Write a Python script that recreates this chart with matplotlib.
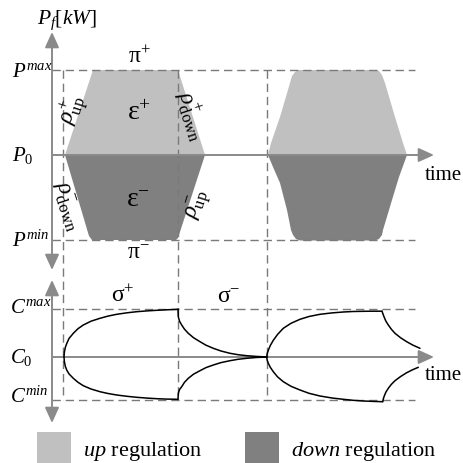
import matplotlib
matplotlib.use("Agg")
import matplotlib.pyplot as plt
from matplotlib.patches import Patch, ArrowStyle

plt.rcParams["font.family"] = ["Liberation Serif", "DejaVu Serif"]
plt.rcParams["mathtext.fontset"] = "custom"
plt.rcParams["mathtext.rm"] = "Liberation Serif"
plt.rcParams["mathtext.it"] = "Liberation Serif:italic"
plt.rcParams["mathtext.bf"] = "Liberation Serif:bold"

# levels of the two panels (diagram units)
P_MAX, P_0, P_MIN = 85, 0, -85
C_MAX, C_0, C_MIN = 48, 0, -43

# time marks
T_MARKS = [11, 126, 215]
T_GUIDE_END = 363
T_AXIS_END = 382

# first regulation event: up (light) and down (dark) envelopes
up1_t = [13, 41, 126, 153]
up1_p = [0, 85, 85, 0]
down1_t = [13, 37, 40, 124, 126, 153]
down1_p = [0, -81, -85, -85, -83, 0]

# second regulation event
up2_t = [216, 219, 228, 238, 240, 243, 247, 323, 327, 330, 333, 343, 351, 355]
up2_p = [0, 12, 38, 72, 79, 83, 85, 85, 84, 80, 72, 38, 12, 0]
down2_t = [216, 221, 228, 235, 239, 241, 244, 248, 323, 327, 330, 331, 340, 347, 355]
down2_p = [0, -12, -28, -55, -75, -80, -84, -85.5, -85.5, -84, -80, -75, -45, -22, 0]

# state-of-charge envelope
soc1_up_t = [12, 12.4, 13.3, 14.7, 17, 21.3, 26, 31.3, 39, 48, 56, 64.7, 75, 84.7, 95, 104.7, 115, 126]
soc1_up_c = [0, 5, 9.5, 13.4, 18.5, 23.7, 28.3, 32, 35.8, 38.7, 40.9, 42.7, 44.2, 45.3, 46.1, 46.7, 47.2, 47.7]
soc1_lo_t = [12, 12.4, 13.3, 14.7, 17, 21.3, 26, 31.3, 39, 48, 56, 64.7, 75, 84.7, 95, 104.7, 115, 126]
soc1_lo_c = [0, -4.8, -9.2, -13, -16.9, -21.3, -25.3, -28.7, -32, -34.7, -36.5, -38, -39.3, -40.3, -41.1, -41.7, -42.1, -42.3]
dec1_up_t = [126, 126.3, 127.5, 129.7, 132.5, 136.3, 141.5, 148, 154, 161.3, 169, 178, 186, 194.7, 204, 215]
dec1_up_c = [47.7, 40.3, 35.8, 32, 27.8, 23.7, 19.3, 15.3, 11.8, 8.7, 6, 3.7, 2.3, 1.3, 0.6, 0]
dec1_lo_t = [126, 126.3, 127.5, 129.7, 132.5, 136.3, 141.5, 148, 154, 161.3, 169, 178, 186, 194.7, 204, 215]
dec1_lo_c = [-42.3, -36.3, -32.6, -29.7, -25.3, -21.3, -17.2, -13.7, -10.6, -8, -5.6, -3.7, -2.3, -1.3, -0.5, 0]

soc2_up_t = [214.7, 215.2, 216.3, 218.3, 221.3, 225.5, 231.3, 239, 248, 257, 268, 280, 291.3, 301, 311.3, 321, 330]
soc2_up_c = [0, 3.5, 6.7, 11.5, 16.7, 22.5, 28.7, 33.7, 37.7, 40.5, 42.7, 44.1, 45, 45.5, 45.7, 45.8, 45.8]
soc2_lo_t = [214.7, 215.2, 216.3, 218.3, 221.3, 225.5, 231.3, 239, 248, 257, 268, 280, 291.3, 301, 311.3, 321, 330.7]
soc2_lo_c = [0, -3.3, -6.3, -10.3, -14.7, -19.8, -24.7, -29.3, -33, -36.3, -39, -41, -42.3, -43.3, -44, -44.4, -44.7]
dec2_up_t = [330, 331, 332, 333.8, 336.3, 339.4, 343, 348.5, 354.7, 361, 368]
dec2_up_c = [45.8, 43, 40.3, 36, 32, 27.7, 23.7, 19.3, 15.3, 11.8, 8.7]
dec2_lo_t = [330.7, 331.3, 332, 333.8, 336.3, 339.4, 343, 348.5, 354.7, 360.5, 366.3]
dec2_lo_c = [-44.7, -42, -39.7, -35.3, -31.3, -27.3, -23.7, -19.6, -15.7, -12.8, -10.3]

LIGHT = "#c0c0c0"
DARK = "#808080"
AXIS_GRAY = "#8a8a8a"
GUIDE_GRAY = "#7a7a7a"

fig = plt.figure(figsize=(4.63, 4.63), dpi=100)
# both panels share the time scale, each has its own vertical scale
ax_p = fig.add_axes([0, 0, 1, 1])
ax_c = fig.add_axes([0, 0, 1, 1])
ax_p.set_xlim(-52, 411)
ax_p.set_ylim(-308, 155)
ax_c.set_xlim(-52, 411)
ax_c.set_ylim(-106, 357)
for ax in (ax_p, ax_c):
    ax.axis("off")
ax_c.patch.set_alpha(0)

# regulation envelopes
ax_p.fill(up1_t, up1_p, color=LIGHT, lw=0, zorder=1)
ax_p.fill(down1_t, down1_p, color=DARK, lw=0, zorder=1)
ax_p.fill(up2_t, up2_p, color=LIGHT, lw=0, zorder=1)
ax_p.fill(down2_t, down2_p, color=DARK, lw=0, zorder=1)

guide = dict(color=GUIDE_GRAY, lw=1.0, ls=(0, (6, 3.5)), zorder=2)
for lvl in (P_MAX, P_MIN):
    ax_p.plot([0, T_GUIDE_END], [lvl, lvl], **guide)
for lvl in (C_MAX, C_MIN):
    ax_c.plot([0, T_GUIDE_END], [lvl, lvl], **guide)
for t in T_MARKS:
    # guides run from P^max down to C^min
    y_bot = ax_c.transData.transform((t, C_MIN))[1]
    p_bot = ax_p.transData.inverted().transform((0, y_bot))[1]
    ax_p.plot([t, t], [P_MAX, p_bot], **guide)

head = ArrowStyle("-|>", head_length=0.55, head_width=0.25)
both = ArrowStyle("<|-|>", head_length=0.55, head_width=0.25)
arrow = dict(color=AXIS_GRAY, lw=1.4, shrinkA=0, shrinkB=0, mutation_scale=17)
ax_p.annotate("", xy=(T_AXIS_END, P_0), xytext=(0, P_0),
              arrowprops=dict(arrowstyle=head, **arrow), zorder=3)
ax_p.annotate("", xy=(0, 123), xytext=(0, -115),
              arrowprops=dict(arrowstyle=both, **arrow), zorder=3)
ax_c.annotate("", xy=(T_AXIS_END, C_0), xytext=(0, C_0),
              arrowprops=dict(arrowstyle=head, **arrow), zorder=3)
ax_c.annotate("", xy=(0, 77), xytext=(0, -66),
              arrowprops=dict(arrowstyle=both, **arrow), zorder=3)

# state-of-charge boundaries
curve = dict(color="black", lw=1.1, zorder=4, solid_capstyle="round")
for t, c in [(soc1_up_t, soc1_up_c), (soc1_lo_t, soc1_lo_c),
             (dec1_up_t, dec1_up_c), (dec1_lo_t, dec1_lo_c),
             (soc2_up_t, soc2_up_c), (soc2_lo_t, soc2_lo_c),
             (dec2_up_t, dec2_up_c), (dec2_lo_t, dec2_lo_c)]:
    ax_c.plot(t, c, **curve)

# labels of the power panel
ax_p.text(-15, 135, r"$P_f[kW]$", fontsize=15.5, ha="left", va="center")
ax_p.text(-40, 78, r"$P^{max}$", fontsize=15, ha="left", va="baseline")
ax_p.text(-40, -6, r"$P_0$", fontsize=15, ha="left", va="baseline")
ax_p.text(-40, -92, r"$P^{min}$", fontsize=15, ha="left", va="baseline")
ax_p.text(373, -25, "time", fontsize=15, ha="left", va="baseline")

greek = dict(fontsize=17, ha="center", va="baseline")
ax_p.text(87, 92, r"$\mathrm{π}^{+}$", **greek)
ax_p.text(86, -103, r"$\mathrm{π}^{-}$", **greek)
ax_p.text(87, 35, r"$\mathrm{ε}^{+}$", fontsize=20, ha="center", va="baseline")
ax_p.text(86, -52, r"$\mathrm{ε}^{-}$", fontsize=20, ha="center", va="baseline")

rho = dict(fontsize=17, ha="center", va="center", rotation_mode="anchor")
ax_p.text(20.5, 45, r"$\rho^{+}_{\mathrm{up}}$", rotation=72, **rho)
ax_p.text(140.5, 39, r"$\rho^{+}_{\mathrm{down}}$", rotation=-72, **rho)
ax_p.text(15.5, -51.5, r"$\rho^{-}_{\mathrm{down}}$", rotation=-72, **rho)
ax_p.text(145.5, -49, r"$\rho^{-}_{\mathrm{up}}$", rotation=72, **rho)

# labels of the state-of-charge panel
ax_c.text(-42, 44, r"$C^{max}$", fontsize=15, ha="left", va="baseline")
ax_c.text(-42, -6, r"$C_0$", fontsize=15, ha="left", va="baseline")
ax_c.text(-42, -46, r"$C^{min}$", fontsize=15, ha="left", va="baseline")
ax_c.text(373, -23, "time", fontsize=15, ha="left", va="baseline")
ax_c.text(71, 55, r"$\mathrm{σ}^{+}$", **greek)
ax_c.text(177, 55, r"$\mathrm{σ}^{-}$", **greek)

fig.legend(handles=[Patch(fc=LIGHT, ec="none"), Patch(fc=DARK, ec="none")],
           labels=[r"$\mathit{up}$ regulation", r"$\mathit{down}$ regulation"],
           loc="center left", bbox_to_anchor=(37 / 463, 14 / 463), ncol=2,
           frameon=False, fontsize=16, borderpad=0, borderaxespad=0,
           handlelength=1.53, handleheight=2.0, handletextpad=0.55,
           columnspacing=1.9)

fig.savefig("out.png", dpi=100)
